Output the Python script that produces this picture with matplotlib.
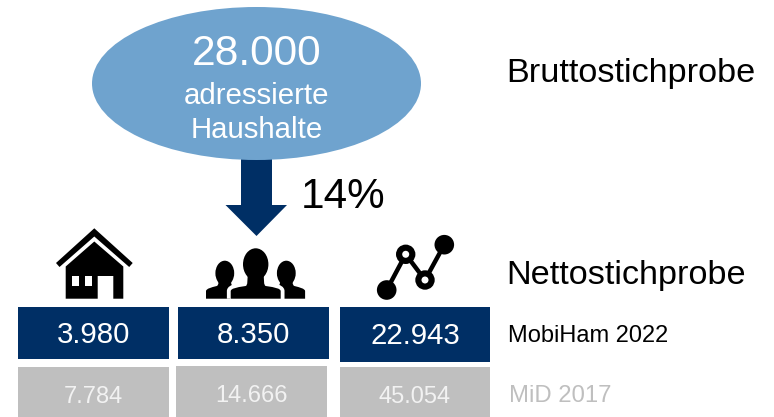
import matplotlib
matplotlib.use("Agg")
import matplotlib.pyplot as plt
from matplotlib.patches import Ellipse, Polygon, Rectangle, Circle, PathPatch
from matplotlib.path import Path

plt.rcParams['font.family'] = ['Liberation Sans', 'DejaVu Sans']

top_value = "28.000"
top_lines = ["adressierte", "Haushalte"]
rate_label = "14%"
row_labels = ["Bruttostichprobe", "Nettostichprobe"]
mobiham_values = ["3.980", "8.350", "22.943"]
mid_values = ["7.784", "14.666", "45.054"]
series_names = ["MobiHam 2022", "MiD 2017"]

NAVY = "#002F65"
BLUE = "#6FA3CE"
GREY = "#BFBFBF"
PALE = "#F2F2F2"

fig = plt.figure(figsize=(7.74, 4.17), dpi=100)
ax = fig.add_axes([0, 0, 1, 1])
ax.set_xlim(0, 774)
ax.set_ylim(417, 0)
ax.axis("off")

# Ellipse and arrow
ax.add_patch(Ellipse((256.5, 83.5), 329, 153, fc=BLUE, ec="none", zorder=2))
ax.add_patch(Polygon([(241, 159), (272, 159), (272, 205), (287, 205), (256.5, 236),
                      (225.5, 205), (241, 205)], fc=NAVY, ec="none", zorder=1))
ax.text(256.5, 49.5, top_value, color="white", fontsize=30.6, ha="center", va="center_baseline", zorder=3)
ax.text(256.5, 93, top_lines[0], color="white", fontsize=21.2, ha="center", va="center_baseline", zorder=3)
ax.text(256.5, 127, top_lines[1], color="white", fontsize=21.2, ha="center", va="center_baseline", zorder=3)
ax.text(343.5, 192, rate_label, color="black", fontsize=30.4, ha="center", va="center_baseline")

ax.text(506.5, 70, row_labels[0], color="black", fontsize=24.7, ha="left", va="center_baseline")
ax.text(506.5, 272, row_labels[1], color="black", fontsize=24.7, ha="left", va="center_baseline")

# Value boxes: (x0, x1, y0, y1)
row1 = [(18, 169, 307, 359), (178, 329, 307, 359), (340, 490, 307, 362)]
row2 = [(18, 169, 367, 417), (176, 327, 366, 417), (340, 490, 367, 417)]
for (x0, x1, y0, y1), v in zip(row1, mobiham_values):
    ax.add_patch(Rectangle((x0, y0), x1 - x0, y1 - y0, fc=NAVY, ec="none"))
    ax.text((x0 + x1) / 2, (y0 + y1) / 2 - 1, v, color="white", fontsize=21.2, ha="center", va="center_baseline")
for (x0, x1, y0, y1), v in zip(row2, mid_values):
    ax.add_patch(Rectangle((x0, y0), x1 - x0, y1 - y0, fc=GREY, ec="none"))
    ax.text((x0 + x1) / 2, 394.5 if x0 != 176 else 393.5, v, color=PALE, fontsize=17, ha="center", va="center_baseline")

ax.text(508, 334, series_names[0], color="black", fontsize=17, ha="left", va="center_baseline")
ax.text(509, 393.5, series_names[1], color=GREY, fontsize=17.2, ha="left", va="center_baseline")

# House icon
ax.add_patch(Polygon([(56, 263), (94.3, 228.3), (132.7, 263), (129.2, 267), (94.3, 236.5), (59.5, 267)],
                     fc="black", ec="none"))
ax.add_patch(Polygon([(94.3, 241.5), (123.3, 266.5), (123.3, 298.7), (113.3, 298.7), (113.3, 276),
                      (97.7, 276), (97.7, 298.7), (65.7, 298.7), (65.7, 266.5)], fc="black", ec="none"))
ax.add_patch(Rectangle((72, 276), 6.7, 10, fc="white", ec="none"))
ax.add_patch(Rectangle((85, 276), 6.7, 10, fc="white", ec="none"))

# People icon
def person(cx, hw, top, base, head_rx, head_ry, neck, shoulder_y, outline=False, z=3):
    M, C, L = Path.MOVETO, Path.CURVE4, Path.LINETO
    hy = top + head_ry
    verts = [(cx - hw, base), (cx - hw, shoulder_y + 3),
             (cx - hw + 0.5, shoulder_y + 0.5), (cx - hw + 5, shoulder_y - 0.5), (cx - neck - 2, shoulder_y - 2),
             (cx - neck, shoulder_y - 3), (cx - neck, shoulder_y - 6), (cx - neck, hy),
             (cx + neck, hy),
             (cx + neck, shoulder_y - 6), (cx + neck, shoulder_y - 3), (cx + neck + 2, shoulder_y - 2),
             (cx + hw - 5, shoulder_y - 0.5), (cx + hw - 0.5, shoulder_y + 0.5), (cx + hw, shoulder_y + 3),
             (cx + hw, base), (cx - hw, base)]
    codes = [M, L, C, C, C, C, C, C, L, C, C, C, C, C, C, L, L]
    body = Path(verts, codes)
    if outline:
        ax.add_patch(PathPatch(body, fc="white", ec="white", lw=5.5, zorder=z))
    ax.add_patch(PathPatch(body, fc="black", ec="none", zorder=z + 1))
    ax.add_patch(Ellipse((cx, hy), 2 * head_rx, 2 * head_ry, fc="black", ec="none", zorder=z + 1))

person(224.8, 18.8, 260.7, 298.7, 9.4, 12.5, 6, 288)
person(286.3, 18.8, 260.7, 298.7, 9.4, 12.5, 6, 288)
person(255.7, 25, 248.3, 298.7, 12.7, 16, 8, 288, outline=True, z=6)
ax.add_patch(Rectangle((225, 299), 62, 6, fc="white", ec="none", zorder=7))

# Line icon
pts_x = [386.7, 405.7, 425, 444.3]
pts_y = [290, 254.3, 280, 244.7]
ax.plot(pts_x, pts_y, color="black", lw=3.2, solid_capstyle="round", zorder=4)
for x, y in [(386.7, 290), (444.3, 244.7)]:
    ax.add_patch(Circle((x, y), 9.8, fc="black", ec="none", zorder=5))
for x, y in [(405.7, 254.3), (425, 280)]:
    ax.add_patch(Circle((x, y), 9.7, fc="black", ec="none", zorder=5))
    ax.add_patch(Circle((x, y), 3.5, fc="white", ec="none", zorder=6))

fig.savefig("out.png", dpi=100)
